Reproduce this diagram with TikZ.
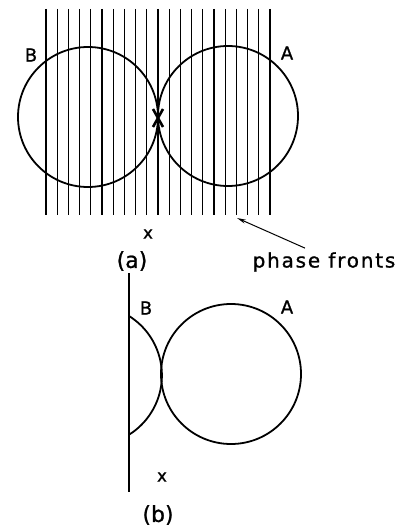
\documentclass[tikz,border=0pt]{standalone}
\usepackage{fontspec}
\setmainfont{DejaVu Sans}[FakeBold=1]
\newfontfamily\lettering[LetterSpace=9,FakeBold=1]{DejaVu Sans}
\usetikzlibrary{arrows.meta}
\begin{document}
\begin{tikzpicture}[x=1pt,y=-1pt,>={Stealth[length=9pt,width=4pt]},
  lbl/.style={font={\fontsize{18}{20}\selectfont},inner sep=0pt},
  small/.style={font={\fontsize{17}{20}\selectfont},inner sep=0pt},
  wide/.style={font={\lettering\fontsize{20}{22}\selectfont},inner sep=0pt},
  panel/.style={font={\fontsize{22}{24}\selectfont},inner sep=0pt},
  front/.style={line width=1.2pt},
  lobe/.style={line width=1.8pt}]
\useasboundingbox (0,0) rectangle (398,529);

% (a) two lobes in the phase fronts
\foreach \i in {0,...,20}
  \draw[front] (46+11.2*\i,9) -- (46+11.2*\i,215);
\draw[lobe] (88,117) circle (70);
\draw[lobe] (228,116) circle (70);
\draw[line width=2.6pt] (153,109) -- (163,127) (163,109) -- (153,127);

\node[lbl] (labelB) at (31,55) {B};
\node[lbl] (labelA) at (287,53) {A};
\node[small] (xa) at (148,234) {x};
\node[panel] (capa) at (132,261) {(a)};
\node[wide] (fronts) at (324,262) {phase fronts};
\coordinate (tip) at (237,218);
\draw[->,line width=1pt] ([xshift=-19pt,yshift=4pt]fronts.north) -- (tip);

% (b) lobe B cut by the wall
\draw[line width=1.5pt] (129,273) -- (129,492);
\draw[lobe] (129,316) arc[start angle=-58,end angle=58,radius=70];
\draw[lobe] (231,374) circle (70);

\node[lbl] (labelB2) at (146,308) {B};
\node[lbl] (labelA2) at (287,307) {A};
\node[small] (xb) at (162,477) {x};
\node[panel] (capb) at (158,515) {(b)};
\end{tikzpicture}
\end{document}
